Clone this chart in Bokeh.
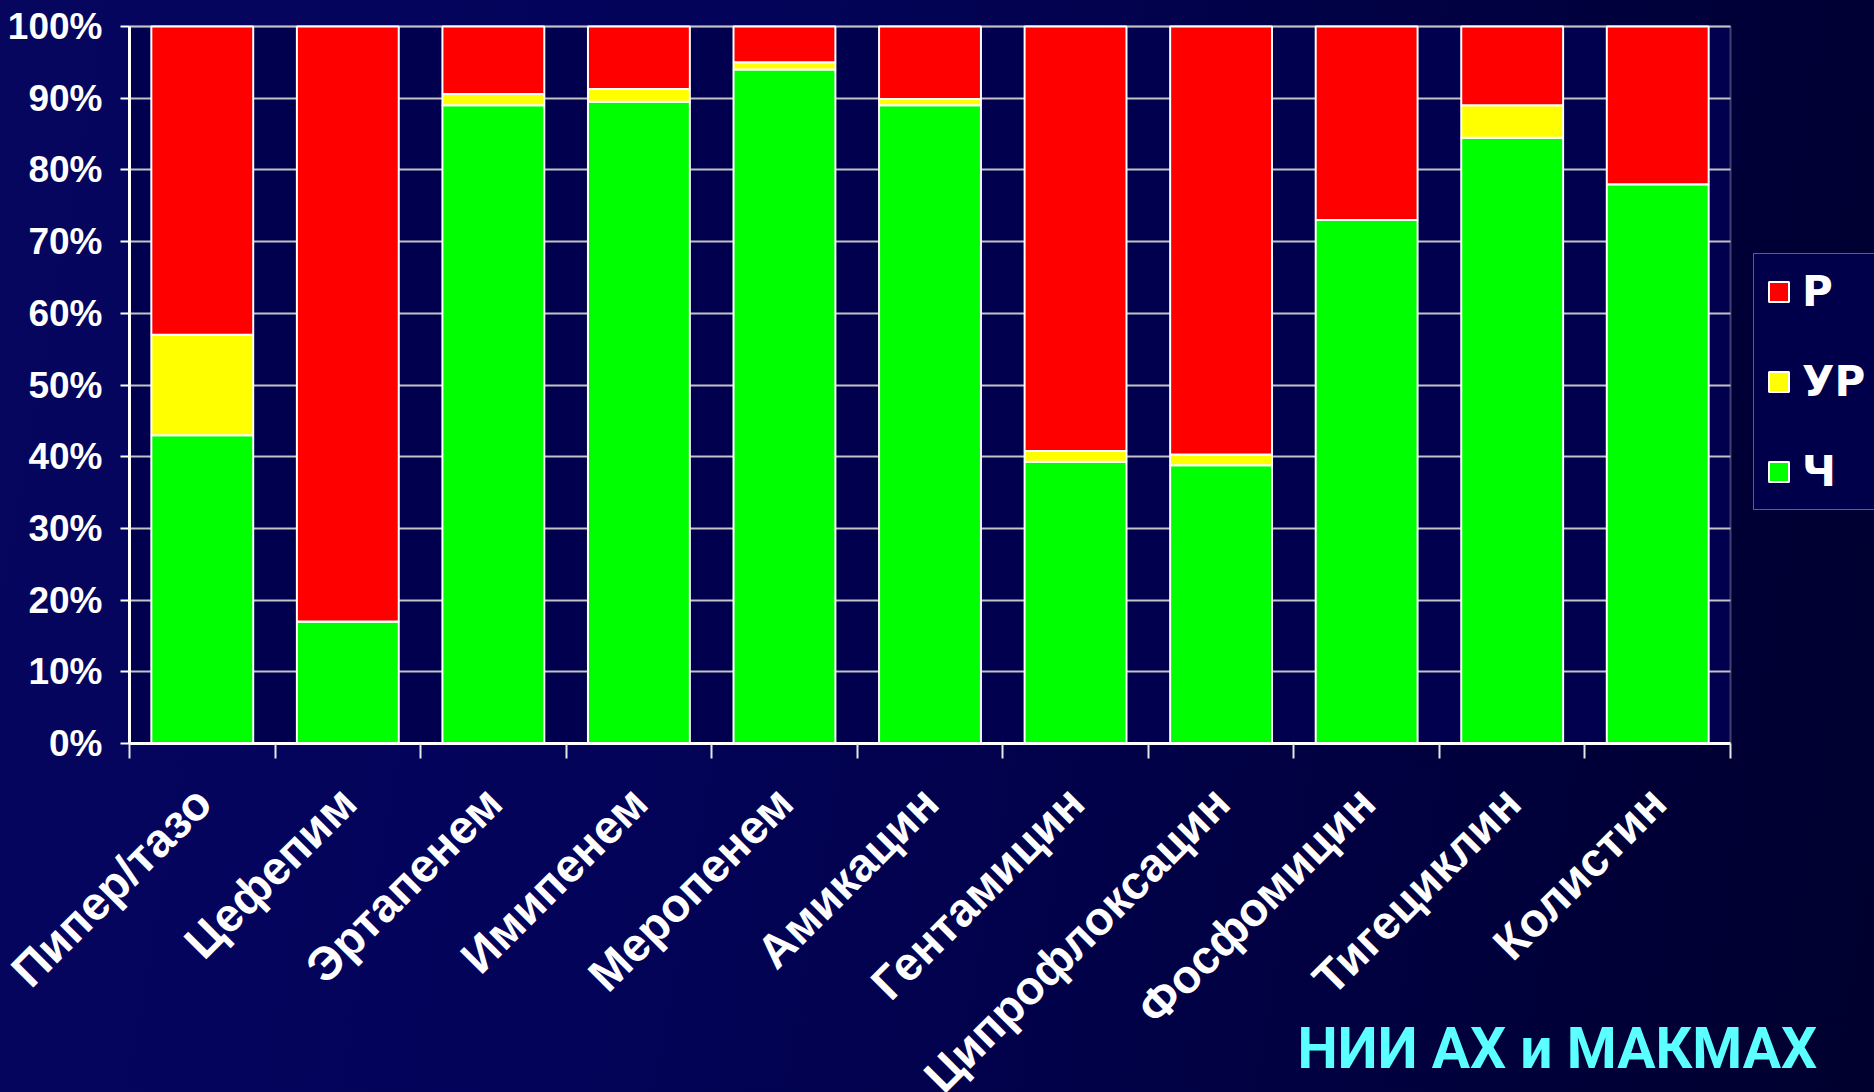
import math

from bokeh.plotting import figure
from bokeh.models import (ColumnDataSource, Range1d, FixedTicker, PrintfTickFormatter,
                          Legend, LegendItem, Label, BoxAnnotation, InlineStyleSheet,
                          LinearAxis, Grid)
from bokeh.embed import file_html
from bokeh.resources import INLINE

# Antibiotic susceptibility, % of isolates
drugs = ["Пипер/тазо", "Цефепим", "Эртапенем", "Имипенем", "Меропенем", "Амикацин",
         "Гентамицин", "Ципрофлоксацин", "Фосфомицин", "Тигециклин", "Колистин"]
susceptible = [43, 17, 89, 89.5, 94, 89, 39.3, 38.8, 73, 84.5, 78]      # Ч
intermediate = [14, 0, 1.6, 1.8, 1, 0.9, 1.5, 1.5, 0, 4.5, 0]          # УР
resistant = [43, 83, 9.4, 8.7, 5, 10.1, 59.2, 59.7, 27, 11, 22]        # Р
y_ticks = [0, 10, 20, 30, 40, 50, 60, 70, 80, 90, 100]
source_note = "НИИ АХ  и МАКМАХ"

GREEN, YELLOW, RED = "#00ff00", "#ffff00", "#ff0000"
FONT = "Liberation Sans"
W, H = 1874, 1092

# The frame fills the whole canvas; the plot box spans px x 129..1730, y 26..743
# and both axes are pinned to its edges with fixed_location.
LEFT, PLOT_RIGHT, TOP, BASE = 129, 1730, 26, 743
n = len(drugs)
px_x = (PLOT_RIGHT - LEFT) / n
px_y = (BASE - TOP) / 100
x_rng = Range1d(-LEFT / px_x, (W - LEFT) / px_x)
y_rng = Range1d(-(H - BASE) / px_y, 100 + TOP / px_y)

centers = [i + 0.5 for i in range(n)]
bounds = list(range(n + 1))

src = ColumnDataSource(dict(x=centers, sus=susceptible, inter=intermediate, res=resistant))

bg_css = InlineStyleSheet(css=""":host {
  background: linear-gradient(100deg, #06065f 0%, #03035a 35%, #010146 65%, #00002e 100%);
}""")

p = figure(width=W, height=H, output_backend="svg", toolbar_location=None,
           x_range=x_rng, y_range=y_rng, x_axis_location=None, y_axis_location=None,
           min_border=0, border_fill_color=None, background_fill_color=None,
           outline_line_color=None)
p.stylesheets = [bg_css]
for g in p.grid:
    g.visible = False

# plot box
p.add_layout(BoxAnnotation(left=0, right=n, bottom=0, top=100, level="image",
                           fill_color="#00004f", fill_alpha=1,
                           line_color="#d8d8d8", line_width=2))

# y axis pinned at x = 0
ya = LinearAxis(fixed_location=0, bounds=(0, 100), ticker=FixedTicker(ticks=y_ticks),
                formatter=PrintfTickFormatter(format="%d%%"))
ya.axis_line_color = "white"
ya.axis_line_width = 3
ya.major_tick_line_color = "white"
ya.major_tick_line_width = 2
ya.major_tick_out = 9
ya.major_tick_in = 0
ya.minor_tick_line_color = None
ya.major_label_text_color = "white"
ya.major_label_text_font = FONT
ya.major_label_text_font_style = "bold"
ya.major_label_text_font_size = "37px"
ya.major_label_standoff = 18
p.add_layout(ya, "left")

# x axis pinned at y = 0: separators between categories (minor ticks), names at centres
xa = LinearAxis(fixed_location=0, bounds=(0, n),
                ticker=FixedTicker(ticks=centers, minor_ticks=bounds))
xa.major_label_overrides = {c: d for c, d in zip(centers, drugs)}
xa.axis_line_color = "white"
xa.axis_line_width = 3
xa.major_tick_line_color = None
xa.major_tick_out = 0
xa.major_tick_in = 0
xa.minor_tick_line_color = "#e6e6e6"
xa.minor_tick_line_width = 2
xa.minor_tick_out = 15
xa.minor_tick_in = 0
xa.major_label_orientation = math.pi / 4
xa.major_label_text_color = "white"
xa.major_label_text_font = FONT
xa.major_label_text_font_style = "bold"
xa.major_label_text_font_size = "47px"
xa.major_label_standoff = 36
p.add_layout(xa, "below")

# horizontal grid inside the plot box only
grid = Grid(dimension=1, ticker=FixedTicker(ticks=y_ticks),
            grid_line_color="#c4c4c4", grid_line_width=2)
if "cross_bounds" in Grid.properties():
    grid.cross_bounds = (0, n)
p.add_layout(grid)

rs = p.vbar_stack(["sus", "inter", "res"], x="x", width=0.7, source=src,
                  fill_color=[GREEN, YELLOW, RED], line_color="white", line_width=2)

legend = Legend(items=[LegendItem(label="Р", renderers=[rs[2]]),
                       LegendItem(label="УР", renderers=[rs[1]]),
                       LegendItem(label="Ч", renderers=[rs[0]])],
                location=(1753, H - 510),
                label_text_font="DejaVu Sans", label_text_font_style="bold",
                label_text_font_size="42px", label_text_color="white",
                glyph_width=25, glyph_height=25, label_height=51, label_standoff=11,
                spacing=39, padding=12, margin=0,
                border_line_color="#b8b8c8", border_line_width=1.5,
                background_fill_color="#00004a", background_fill_alpha=1)
p.add_layout(legend)

p.add_layout(Label(x=1297, y=H - 1048, x_units="screen", y_units="screen",
                   text=source_note, text_font="Roboto", text_font_style="bold",
                   text_font_size="57px", text_color="#5cffff",
                   text_baseline="alphabetic", text_align="left"))

open("out.html", "w").write(file_html(p, INLINE))
